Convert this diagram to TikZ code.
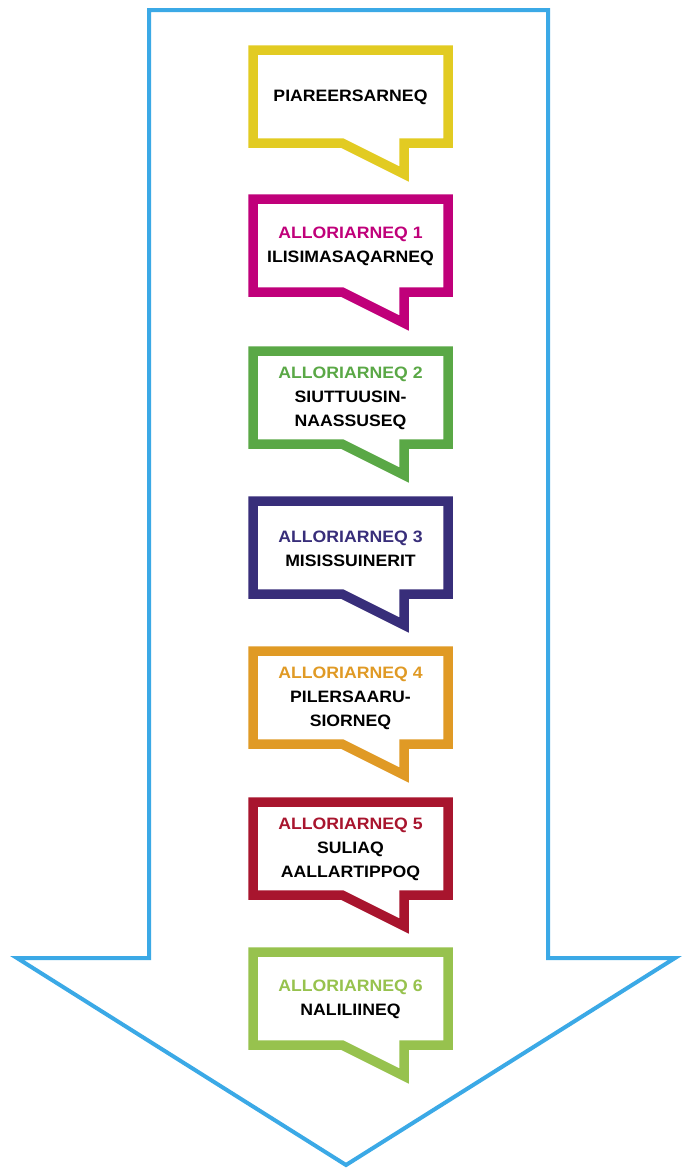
\documentclass[tikz,border=0pt]{standalone}
\usepackage{fontspec}
\setmainfont{Liberation Sans}[FakeStretch=1.07]
\definecolor{arrowblue}{HTML}{3BA9E6}
\definecolor{cYellow}{HTML}{E2CB22}
\definecolor{cMagenta}{HTML}{C0007A}
\definecolor{cGreen}{HTML}{5AA846}
\definecolor{cNavy}{HTML}{382E7A}
\definecolor{cOrange}{HTML}{E09A25}
\definecolor{cRed}{HTML}{A8152E}
\definecolor{cLime}{HTML}{97C24E}
\tikzset{
  bigarrow/.style={draw=arrowblue, line width=4pt, line join=miter, fill=white},
  bubble/.style={line width=9.5pt, line join=miter, miter limit=4, fill=white},
  btext/.style={font=\fontsize{16.5}{24}\selectfont\bfseries, align=center, inner sep=0pt, text=black},
}
\newcommand{\speech}[4]{%
  % #1 name, #2 top y, #3 colour, #4 text
  \draw[bubble, draw=#3] (253,-#2) -- (448,-#2) -- (448,-#2-93) -- (404,-#2-93)
     -- (404,-#2-124) -- (342,-#2-93) -- (253,-#2-93) -- cycle;
  \node[btext] (#1) at (350.5,-#2-47.5) {#4};
}
\begin{document}
\begin{tikzpicture}[x=1pt,y=1pt]
\useasboundingbox (0,0) rectangle (683,-1171);
\draw[bigarrow] (149,-10) -- (548,-10) -- (548,-958) -- (675,-958) -- (346,-1165)
  -- (17,-958) -- (149,-958) -- cycle;
\speech{b0}{50}{cYellow}{PIAREERSARNEQ}
\speech{b1}{199}{cMagenta}{\textcolor{cMagenta}{ALLORIARNEQ 1}\\ILISIMASAQARNEQ}
\speech{b2}{351}{cGreen}{\textcolor{cGreen}{ALLORIARNEQ 2}\\SIUTTUUSIN-\\NAASSUSEQ}
\speech{b3}{501}{cNavy}{\textcolor{cNavy}{ALLORIARNEQ 3}\\MISISSUINERIT}
\speech{b4}{651}{cOrange}{\textcolor{cOrange}{ALLORIARNEQ 4}\\PILERSAARU-\\SIORNEQ}
\speech{b5}{802}{cRed}{\textcolor{cRed}{ALLORIARNEQ 5}\\SULIAQ\\AALLARTIPPOQ}
\speech{b6}{952}{cLime}{\textcolor{cLime}{ALLORIARNEQ 6}\\NALILIINEQ}
\end{tikzpicture}
\end{document}
